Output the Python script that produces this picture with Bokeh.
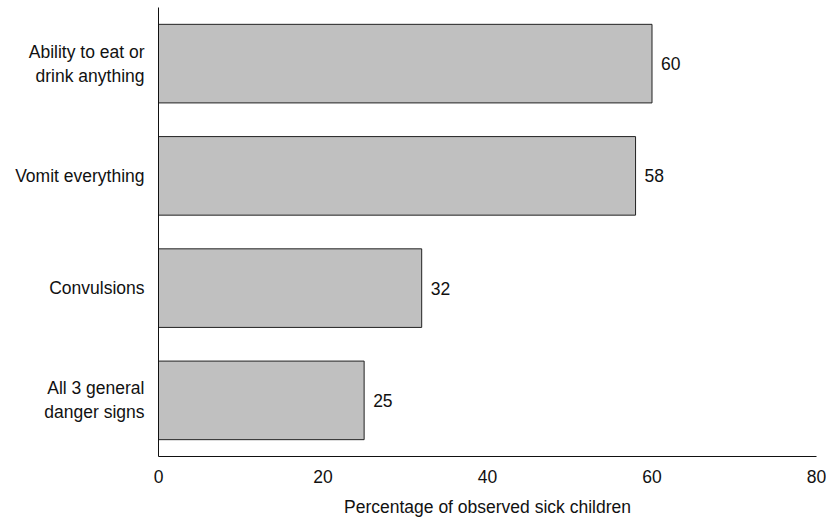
from bokeh.plotting import figure
from bokeh.models import FactorRange, Range1d, FixedTicker, ColumnDataSource
from bokeh.core.properties import value
from bokeh.embed import file_html
from bokeh.resources import INLINE

categories = ["Ability to eat or\ndrink anything", "Vomit everything", "Convulsions", "All 3 general\ndanger signs"]
values = [60, 58, 32, 25]
x_ticks = [0, 20, 40, 60, 80]
x_title = "Percentage of observed sick children"

FONT = "Liberation Sans"
FS = "17.5px"

src = ColumnDataSource(dict(cat=categories, val=values, lab=[str(v) for v in values]))

p = figure(width=826, height=519, output_backend="svg", toolbar_location=None,
           y_range=FactorRange(factors=list(reversed(categories)), range_padding=0),
           x_range=Range1d(0, 80),
           min_border_left=158, min_border_right=10, min_border_top=7, min_border_bottom=0)
p.outline_line_color = None
p.grid.visible = False

p.hbar(y="cat", right="val", left=0, height=0.7, source=src,
       fill_color="#c0c0c0", line_color="#222222", line_width=1)
p.text(x="val", y="cat", text="lab", source=src, x_offset=9,
       text_baseline="middle", text_align="left",
       text_font=value(FONT), text_font_size=FS, text_color="#111111")

p.xaxis.ticker = FixedTicker(ticks=x_ticks)
p.xaxis.axis_label = x_title
p.xaxis.axis_label_text_font = FONT
p.xaxis.axis_label_text_font_size = FS
p.xaxis.axis_label_text_font_style = "normal"
p.xaxis.axis_label_text_color = "#111111"
p.xaxis.axis_label_standoff = 11
p.xaxis.major_label_text_font = FONT
p.xaxis.major_label_text_font_size = FS
p.xaxis.major_label_text_color = "#111111"
p.xaxis.major_label_standoff = 7
p.xaxis.major_tick_line_color = None
p.xaxis.minor_tick_line_color = None
p.xaxis.axis_line_color = "#111111"

p.yaxis.major_label_text_font = FONT
p.yaxis.major_label_text_font_size = FS
p.yaxis.major_label_text_color = "#111111"
p.yaxis.major_label_standoff = 8
p.yaxis.major_tick_line_color = None
p.yaxis.minor_tick_line_color = None
p.yaxis.axis_line_color = "#111111"

open("out.html", "w").write(file_html(p, INLINE))
